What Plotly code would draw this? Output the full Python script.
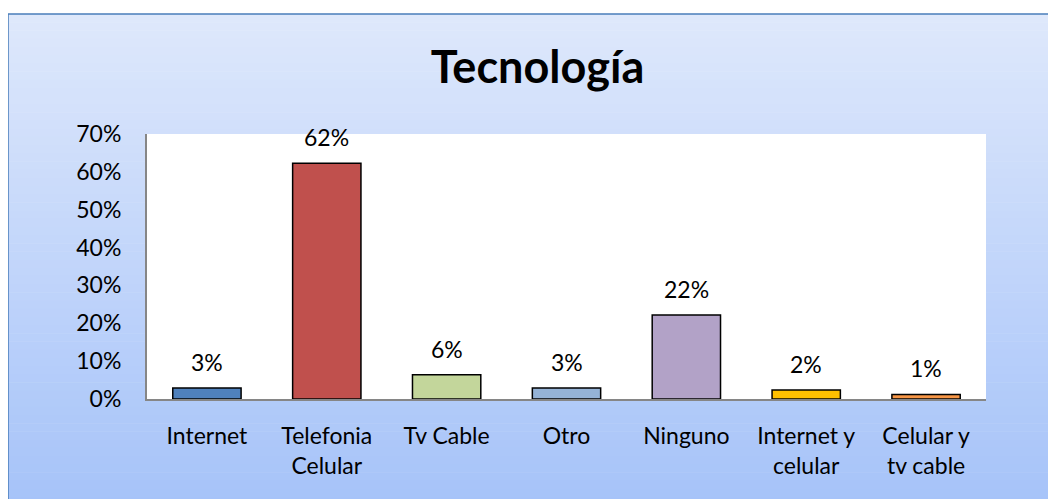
import plotly.graph_objects as go

categories = ["Internet", "Telefonia<br>Celular", "Tv Cable", "Otro", "Ninguno",
              "Internet y<br>celular", "Celular y<br>tv cable"]
values = [0.029, 0.623, 0.064, 0.029, 0.222, 0.024, 0.012]
colors = ["#4F81BD", "#C0504D", "#C3D69B", "#95B3D7", "#B2A2C7", "#FFC000", "#F79646"]
y_ticks = [0, 0.1, 0.2, 0.3, 0.4, 0.5, 0.6, 0.7]

# the page body adds an 8px offset; compensate
OFF = 8
W, H = 1056 - OFF, 499 - OFF
L, R, T, B = 147 - OFF, 70, 134 - OFF, 100
PW, PH = W - L - R, H - T - B

def px_x(p):  # p in reference screen pixels
    return (p - OFF - L) / PW

def px_y(p):
    return (H - B - (p - OFF)) / PH

FONT = "Lato, Calibri, Arial, sans-serif"

fig = go.Figure()
fig.add_trace(go.Bar(
    x=categories, y=values,
    marker=dict(color=colors, line=dict(color="#000000", width=1.5)),
    hoverinfo="skip",
))

shapes = []
top_c = (0xDE, 0xE8, 0xFB)
bot_c = (0xA6, 0xC3, 0xF9)
n = 60
y0p, y1p = 14, 505
for i in range(n):
    t = i / (n - 1)
    c = tuple(round(top_c[k] + (bot_c[k] - top_c[k]) * t) for k in range(3))
    ya = y0p + (y1p - y0p) * i / n
    yb = y0p + (y1p - y0p) * (i + 1) / n
    shapes.append(dict(type="rect", xref="paper", yref="paper", layer="below",
                       x0=px_x(8), x1=px_x(1070), y0=px_y(yb + 0.5), y1=px_y(ya),
                       fillcolor="rgb(%d,%d,%d)" % c, line=dict(width=0)))
shapes.append(dict(type="rect", xref="paper", yref="paper", layer="below",
                   x0=0, x1=1, y0=0, y1=1, fillcolor="white", line=dict(width=0)))
shapes.append(dict(type="rect", xref="paper", yref="paper", layer="above",
                   x0=px_x(8), x1=px_x(1070), y0=px_y(510), y1=px_y(14),
                   fillcolor="rgba(0,0,0,0)", line=dict(color="#4A7EBB", width=1.5)))

annotations = []
for c, v in zip(categories, values):
    annotations.append(dict(x=c, y=v, xref="x", yref="y", text=f"{round(v * 100)}%",
                            showarrow=False, yanchor="middle", yshift=26,
                            font=dict(family=FONT, size=23, color="#000000")))

fig.update_layout(
    width=W, height=H,
    margin=dict(l=L, r=R, t=T, b=B),
    paper_bgcolor="white",
    plot_bgcolor="white",
    bargap=0.43,
    showlegend=False,
    title=dict(text="<b>Tecnología</b>", x=(537.5 - OFF) / W, xanchor="center",
               y=1 - (67 - OFF) / H, yanchor="middle",
               font=dict(family=FONT, size=45, color="#000000")),
    xaxis=dict(showline=True, linecolor="#868686", linewidth=2, ticks="",
               tickfont=dict(family=FONT, size=23, color="#000000"),
               ticklabelstandoff=15, showgrid=False, fixedrange=True),
    yaxis=dict(range=[0, 0.7], tickvals=y_ticks, tickformat=".0%",
               showline=True, linecolor="#868686", linewidth=2, ticks="",
               tickfont=dict(family=FONT, size=23, color="#000000"),
               ticklabelstandoff=19, showgrid=False, zeroline=False, fixedrange=True),
    shapes=shapes,
    annotations=annotations,
)

fig.write_html("out.html")
